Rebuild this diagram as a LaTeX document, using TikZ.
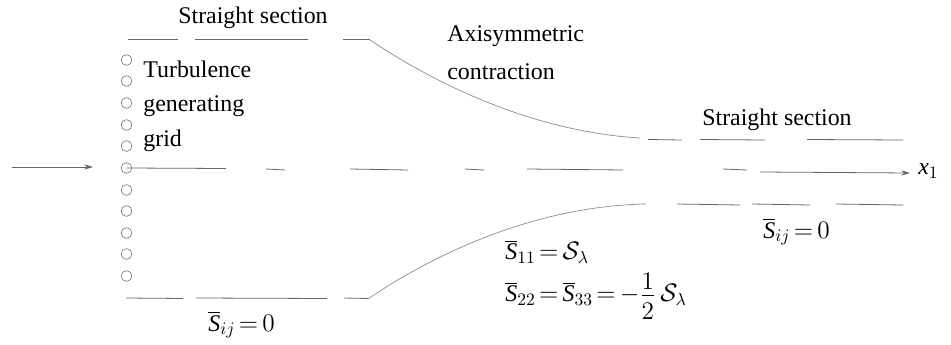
\documentclass[tikz,border=0pt]{standalone}
\usepackage{fontspec}
\setmainfont{Liberation Serif}
\usetikzlibrary{arrows.meta}
\newcommand{\sbar}{\overline{\textit{S}}}
\tikzset{
    wall/.style={draw=black!60, line width=0.45pt},
    curvewall/.style={draw=black!45, line width=0.4pt},
    gridhole/.style={circle, draw=black!55, line width=0.35pt, inner sep=0pt, minimum size=0.215cm},
    notetext/.style={font=\fontsize{13.6}{16}\selectfont, inner sep=0pt, anchor=west},
    mathtext/.style={notetext, execute at begin node={\thickmuskip=3mu\medmuskip=1mu\scriptspace=0pt}},
    flowtip/.style={-{Stealth[length=5pt,width=3pt]}}
}
\begin{document}
\begin{tikzpicture}[x=0.02cm, y=-0.02cm]
    \useasboundingbox (0,0) rectangle (951,345);

    % 格栅
    \foreach \i/\y in {1/60, 2/81, 3/103, 4/125, 5/146, 6/168, 7/190, 8/211, 9/233, 10/254, 11/276}
        \node[gridhole] (hole\i) at (126.5,\y) {};

    % 上壁
    \foreach \a/\b in {128/178, 195/308, 343/370}
        \draw[wall] (\a,39.5) -- (\b,39.5);
    \draw[curvewall] (370,40) .. controls (445,90) and (540,132) .. (640,138);
    \foreach \a/\b in {648/682, 700/765, 807/903}
        \draw[wall] (\a,139.5) -- (\b,140);

    % 下壁
    \foreach \a/\b in {126/183, 196/327, 344/368}
        \draw[wall] (\a,298) -- (\b,298.5);
    \draw[curvewall] (368,299) .. controls (440,250) and (540,206) .. (646,204);
    \foreach \a/\b in {677/740, 752/810, 836/903}
        \draw[wall] (\a,204) -- (\b,205);

    % 中心线
    \node[mathtext] (xone) at (918,171) {$\textit{x}_{1}$};
    \coordinate (axisend) at (910,173);
    \coordinate (inflowstart) at (12,167);
    \foreach \a/\b in {266/285, 350/408, 465/484, 527/623, 723/747}
        \draw[wall] (\a,169) -- (\b,170);
    \draw[wall] (hole6.center) -- (226,168.5);
    \draw[wall, flowtip] (760,172) -- (axisend);

    % 来流
    \coordinate (inflowend) at (93,167);
    \draw[wall, flowtip] (inflowstart) -- (inflowend);

    % 文字
    \node[notetext] (topsection) at (178,18) {Straight section};
    \node[notetext] (gridone) at (143,69) {Turbulence};
    \node[notetext] (gridtwo) at (143,106) {generating};
    \node[notetext] (gridthree) at (143,141) {grid};
    \node[notetext] (axione) at (447,36) {Axisymmetric};
    \node[notetext] (axitwo) at (447,72) {contraction};
    \node[notetext] (endsection) at (702,120) {Straight section};
    \node[mathtext] (strainin) at (208,325) {$\sbar_{ij}=0$};
    \node[mathtext] (strainout) at (763,232) {$\sbar_{ij}=0$};
    \node[mathtext] (strainone) at (505,252) {$\sbar_{11}=\mathcal{S}_\lambda$};
    \node[mathtext] (straintwo) at (505,296) {$\sbar_{22}=\sbar_{33}=-\frac{\displaystyle 1\rule[-3pt]{0pt}{0pt}}{\rule{0pt}{13pt}\displaystyle 2}\,\mathcal{S}_\lambda$};
\end{tikzpicture}
\end{document}
